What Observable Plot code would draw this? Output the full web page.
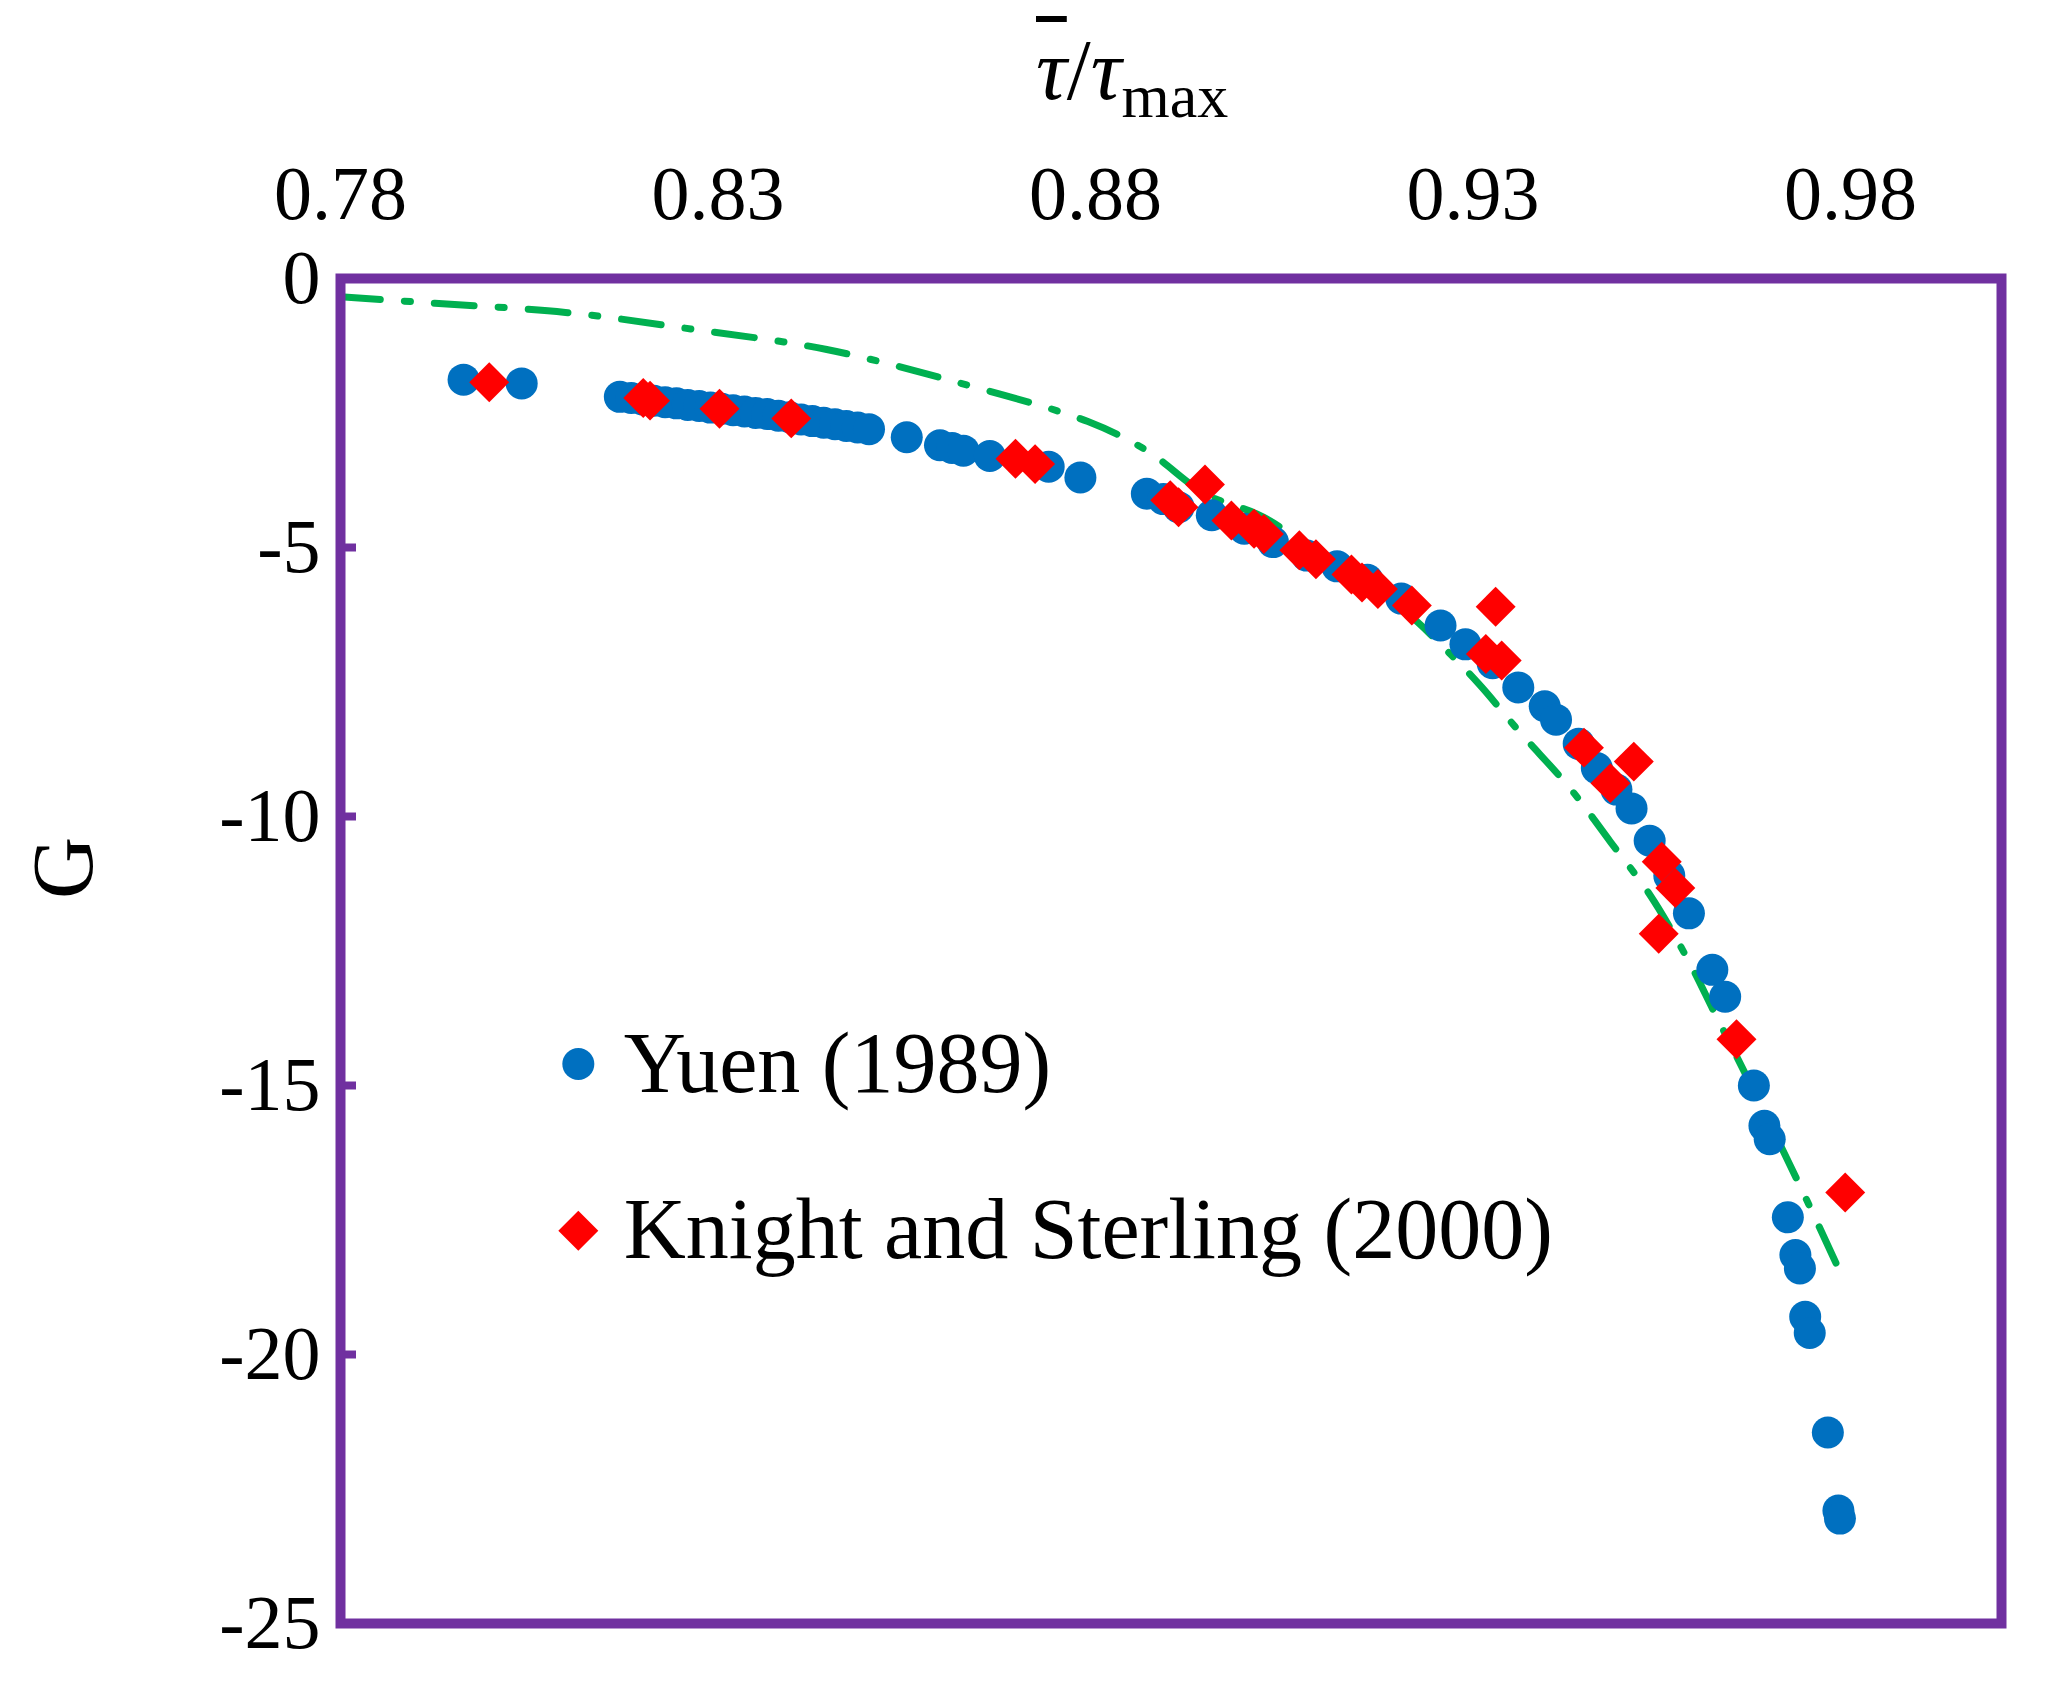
<!DOCTYPE html>
<html><head><meta charset="utf-8">
<script src="https://cdn.jsdelivr.net/npm/d3@7"></script>
<script src="https://cdn.jsdelivr.net/npm/@observablehq/plot@0.6"></script>
<style>
body{margin:0;background:#fff;font-family:"Liberation Serif",serif;}
#wrap{position:relative;width:2053px;height:1686px;}
#title{position:absolute;left:1036px;top:20px;font-size:86px;font-style:italic;white-space:nowrap;}
#title sub{font-style:normal;font-size:62px;}
</style></head><body>
<div id="wrap"><div id="chart"></div>
<div id="title"><span style="text-decoration:overline;text-decoration-thickness:6px">τ</span><span style="font-style:normal">/</span>τ<sub>max</sub></div>
</div>
<script>
const yuenX=[0.7963,0.804,0.817,0.8185,0.820,0.8215,0.823,0.8245,0.826,0.8275,0.829,0.8305,0.832,0.8335,0.835,0.8365,0.838,0.8395,0.841,0.8425,0.844,0.8455,0.847,0.8485,0.850,0.855,0.8594,0.861,0.8625,0.866,0.8738,0.878,0.8868,0.889,0.891,0.8954,0.8997,0.9035,0.908,0.912,0.916,0.9205,0.9257,0.929,0.9326,0.936,0.9395,0.941,0.944,0.9464,0.949,0.951,0.9534,0.956,0.9586,0.9617,0.9634,0.9672,0.9686,0.9693,0.9717,0.9727,0.9733,0.974,0.9746,0.977,0.9784,0.9786];
const yuenG=[-1.88,-1.95,-2.2,-2.22,-2.25,-2.27,-2.3,-2.32,-2.35,-2.37,-2.4,-2.42,-2.45,-2.47,-2.5,-2.52,-2.55,-2.58,-2.62,-2.65,-2.68,-2.71,-2.74,-2.77,-2.8,-2.95,-3.1,-3.15,-3.2,-3.3,-3.5,-3.7,-4.0,-4.1,-4.25,-4.4,-4.65,-4.9,-5.15,-5.35,-5.6,-5.95,-6.45,-6.8,-7.15,-7.6,-7.95,-8.2,-8.65,-9.1,-9.5,-9.85,-10.45,-11.1,-11.8,-12.85,-13.35,-15.0,-15.75,-16.0,-17.45,-18.15,-18.4,-19.3,-19.6,-21.45,-22.9,-23.05];
const ksX=[0.7997,0.8201,0.821,0.8302,0.8397,0.8694,0.872,0.8899,0.891,0.8945,0.898,0.901,0.9023,0.907,0.9092,0.9139,0.9153,0.9174,0.9219,0.933,0.9317,0.9338,0.9447,0.9513,0.9482,0.955,0.9568,0.9546,0.9649,0.9793];
const ksG=[-1.93,-2.22,-2.27,-2.42,-2.6,-3.35,-3.45,-4.12,-4.25,-3.83,-4.5,-4.65,-4.75,-5.05,-5.22,-5.5,-5.65,-5.77,-6.08,-6.1,-6.98,-7.1,-8.72,-8.98,-9.38,-10.84,-11.33,-12.18,-14.14,-16.99];
const fitX=[0.78,0.7925,0.8098,0.827,0.8444,0.8617,0.879,0.8868,0.8945,0.9023,0.9118,0.9205,0.9257,0.9308,0.936,0.943,0.9482,0.9534,0.9585,0.962,0.9672,0.974,0.9784];
const fitG=[-0.34,-0.46,-0.63,-0.95,-1.32,-1.93,-2.66,-3.2,-4.0,-4.44,-5.35,-6.13,-6.8,-7.54,-8.4,-9.5,-10.47,-11.45,-12.67,-13.65,-15.1,-17.07,-18.4];
const xTicks=[0.78,0.83,0.88,0.93,0.98];
const yTicks=[0,-5,-10,-15,-20,-25];
const legendLabels=["Yuen (1989)","Knight and Sterling (2000)"];

const yuen=yuenX.map((x,i)=>({x,g:yuenG[i]}));
const ks=ksX.map((x,i)=>({x,g:ksG[i]}));
const fit=fitX.map((x,i)=>({x,g:fitG[i]}));
const purple="#7030A0";
const chart=Plot.plot({
  width:2053,height:1686,
  marginLeft:340,marginRight:52,marginTop:278,marginBottom:63,
  style:{fontFamily:"Liberation Serif, serif",fontSize:"76px",color:"#000",background:"#fff"},
  x:{domain:[0.78,1.0]},
  y:{domain:[-25,0]},
  marks:[
    Plot.line(fit,{x:"x",y:"g",stroke:"#00B050",strokeWidth:7,strokeDasharray:"40,24,6,24",strokeLinecap:"round",curve:"catmull-rom"}),
    Plot.dot(yuen,{x:"x",y:"g",r:16,fill:"#0070C0",stroke:"none"}),
    Plot.dot(ks,{x:"x",y:"g",r:18,symbol:"diamond2",fill:"#FF0000",stroke:"none"}),
    Plot.axisX({anchor:"top",ticks:xTicks,tickSize:0,tickPadding:60,tickFormat:d=>d.toFixed(2),fontSize:76,label:null}),
    Plot.axisY({anchor:"left",ticks:yTicks,tickSize:-16,stroke:purple,strokeWidth:8,tickPadding:36,tickFormat:d=>String(d),fontSize:76,label:null}),
    Plot.frame({stroke:purple,strokeWidth:10}),
    Plot.dot([{x:0.8115,g:-14.6}],{x:"x",y:"g",r:16,fill:"#0070C0"}),
    Plot.dot([{x:0.8115,g:-17.7}],{x:"x",y:"g",r:18,symbol:"diamond2",fill:"#FF0000"}),
    Plot.text([{x:0.8175,g:-14.6,t:legendLabels[0]},{x:0.8175,g:-17.7,t:legendLabels[1]}],{x:"x",y:"g",text:"t",textAnchor:"start",fontSize:86,fill:"#000"})
  ]
});
document.getElementById("chart").appendChild(chart);
const svg=d3.select(chart);
svg.append("text").attr("x",72).attr("y",868).attr("transform","rotate(-90,72,868)").attr("text-anchor","middle").attr("dominant-baseline","middle").style("font-size","86px").style("font-family","Liberation Serif, serif").text("G");
</script>
</body></html>
